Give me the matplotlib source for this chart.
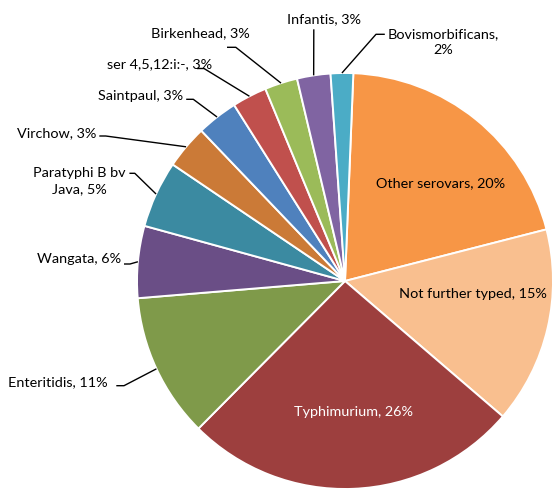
import numpy as np
import matplotlib
matplotlib.use("Agg")
import matplotlib.pyplot as plt

# ---- data (clockwise from the top) ----
categories = ["Other serovars", "Not further typed", "Typhimurium", "Enteritidis",
              "Wangata", "Paratyphi B bv\nJava", "Virchow", "Saintpaul",
              "ser 4,5,12:i:-", "Birkenhead", "Infantis", "Bovismorbificans,\n"]
values = [20.4, 15.3, 26.2, 11.25, 5.6, 5.2, 3.4, 3.2, 2.7, 2.55, 2.6, 1.75]
shown_pct = [20, 15, 26, 11, 6, 5, 3, 3, 3, 3, 3, 2]

colors = ["#F79646", "#F9BF8F", "#9D3F3E", "#7F9A4A", "#6A4E86", "#3B8AA1",
          "#CB7A37", "#4F81BD", "#C0504D", "#9BBB59", "#8064A2", "#4BACC6"]

W, H = 556, 490
fig = plt.figure(figsize=(W / 100, H / 100), dpi=100)
ax = fig.add_axes([0, 0, 1, 1])
ax.set_xlim(0, W)
ax.set_ylim(0, H)
ax.set_aspect("equal")
ax.axis("off")

FONT = "Lato"
FS = 10.4

cx, cy, R = 345, H - 281, 208
start = 87.7
wedges, _ = ax.pie(values, colors=colors, startangle=start, counterclock=False,
                   center=(cx, cy), radius=R, frame=True,
                   wedgeprops=dict(edgecolor="white", linewidth=1.4))
ax.set_xlim(0, W)
ax.set_ylim(0, H)
ax.axis("off")


def lab(i):
    name = categories[i]
    if name.endswith("\n"):
        return f"{name}{shown_pct[i]}%"
    return f"{name}, {shown_pct[i]}%"


def P(x, y):
    return (x, H - y)


# inside labels (pixel positions from top)
inside = {0: (440.6, 182.7, "black"), 1: (472.5, 294.3, "black"), 2: (353.4, 411.7, "white")}
for i, (x, y, c) in inside.items():
    ax.text(*P(x, y), lab(i), ha="center", va="center", color=c,
            fontsize=FS, family=FONT)

# outside labels: text center and leader elbow points (pixel coords from top)
outside = {
    3: ((58, 381.7), [(116.3, 385.7), (124, 385.7)]),
    4: ((79, 259), [(124, 264), (130, 264)]),
    5: ((79, 181), [(129.4, 173.3), (134.8, 173.3)]),
    6: ((56.2, 132.7), [(99.3, 136), (105.7, 136)]),
    7: ((140.8, 96), [(186.2, 99.3), (193.3, 99.3)]),
    8: ((159.2, 64), [(197, 68.5), (204, 68.5)]),
    9: ((200, 33.3), [(227, 47.3), (235.8, 47.3)]),
    10: ((323.6, 19), [(313.8, 29.3)]),
    11: ((443, 42.5), [(384.8, 34.3), (376, 34.3)]),
}
for i, ((tx, ty), pts) in outside.items():
    w = wedges[i]
    mid = np.deg2rad((w.theta1 + w.theta2) / 2)
    ex = cx + R * np.cos(mid)
    ey = cy + R * np.sin(mid)
    xs = [p[0] for p in pts] + [ex]
    ys = [H - p[1] for p in pts] + [ey]
    ax.plot(xs, ys, color="black", lw=1.0, solid_capstyle="butt")
    ax.text(*P(tx, ty), lab(i), ha="center", va="center", color="black",
            fontsize=FS, family=FONT, linespacing=1.4)

fig.savefig("out.png", dpi=100)
